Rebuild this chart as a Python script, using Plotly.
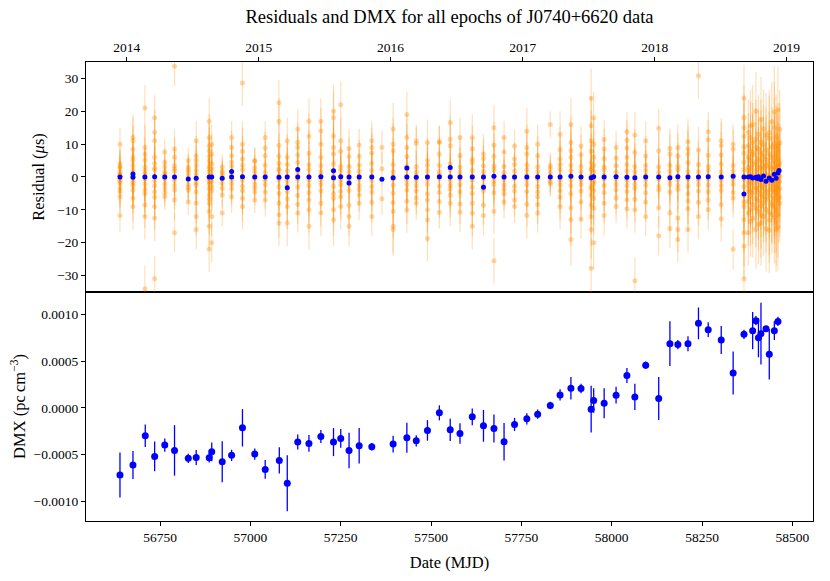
import plotly.graph_objects as go

# ---------------- DMX (bottom panel) ----------------
dmx_mjd = [56639, 56675, 56709, 56735, 56763, 56790, 56828, 56850, 56886, 56893,
           56922, 56948, 56978, 57012, 57041, 57080, 57102, 57131, 57162, 57195,
           57230, 57250, 57273, 57301, 57336, 57395, 57433, 57459, 57490, 57523,
           57553, 57580, 57614, 57645, 57674, 57702, 57731, 57765, 57795, 57830,
           57857, 57887, 57915, 57943, 57950, 57979, 58012, 58042, 58064, 58094,
           58130, 58161, 58183, 58211, 58240, 58267, 58303, 58336, 58366, 58390,
           58399, 58406, 58413, 58427, 58436, 58450, 58460]
dmx_val = [-0.000718, -0.000611, -0.000299, -0.000519, -0.000398, -0.000455, -0.000540, -0.000530, -0.000533, -0.000470,
           -0.000576, -0.000508, -0.000213, -0.000494, -0.000658, -0.000562, -0.000807, -0.000366, -0.000380, -0.000306,
           -0.000366, -0.000327, -0.000455, -0.000405, -0.000416, -0.000387, -0.000320, -0.000352, -0.000241, -0.000053,
           -0.000235, -0.000274, -0.000096, -0.000192, -0.000220, -0.000363, -0.000177, -0.000117, -0.000067, 0.000026,
           0.000139, 0.000210, 0.000207, -0.000014, 0.000079, 0.000050, 0.000136, 0.000346, 0.000117, 0.000456,
           0.000100, 0.000687, 0.000677, 0.000687, 0.000904, 0.000837, 0.000726, 0.000374, 0.000787, 0.000826,
           0.000933, 0.000751, 0.000794, 0.000847, 0.000573, 0.000826, 0.000925]
dmx_err = [0.00024, 0.00015, 0.00012, 0.00016, 0.00007, 0.00027, 0.00005, 0.00008, 0.00005, 0.00010,
           0.00022, 0.00006, 0.00020, 0.00006, 0.00010, 0.00014, 0.00030, 0.00008, 0.00009, 0.00007,
           0.00015, 0.00010, 0.00019, 0.00019, 0.00004, 0.00009, 0.00016, 0.00006, 0.00011, 0.00008,
           0.00012, 0.00011, 0.00009, 0.00017, 0.00015, 0.00020, 0.00007, 0.00006, 0.00005, 0.00004,
           0.00006, 0.00012, 0.00005, 0.00025, 0.00013, 0.00016, 0.00009, 0.00008, 0.00014, 0.00004,
           0.00023, 0.00024, 0.00005, 0.00008, 0.00017, 0.00008, 0.00015, 0.00023, 0.00005, 0.00020,
           0.00005, 0.00021, 0.00033, 0.00003, 0.00027, 0.00010, 0.00005]

# ---------------- Residuals (top panel) ----------------
epoch_mjd = [56639, 56675, 56708, 56735, 56763, 56790, 56828, 56850, 56886, 56893,
             56922, 56948, 56978, 57012, 57041, 57079, 57102, 57131, 57162, 57195,
             57230, 57250, 57273, 57301, 57336, 57364, 57395, 57433, 57459, 57490,
             57523, 57553, 57580, 57614, 57645, 57674, 57702, 57731, 57765, 57795,
             57830, 57857, 57887, 57915, 57943, 57950, 57979, 58012, 58042, 58064,
             58094, 58130, 58161, 58183, 58211, 58240, 58267, 58303, 58336, 58366,
             58378, 58384, 58390, 58399, 58406, 58413, 58420, 58427, 58436, 58443,
             58450, 58455, 58460, 58465]
epoch_resid = [
    [0.5, -0.8, 1.5, -2, 2.8, -3.5, 4, -1.2, 0.2, 10, -6, -11.7, 3.2, -4.4, 1],
    [0.3, -1, 2, -2.5, 3.5, -4, 5, 12, 11, -9, 8.5, -6.5, 1.2, -1.8, 6],
    [0.4, -0.6, 1.8, -2.2, 3, -3.8, 5.2, -5, 21, -34, 9, -12, -8.5, 7, 1],
    [0.2, -1.1, 2.2, -2.7, 4.1, -4.6, 6, 18, -31, -12.5, 11, -9, 13.6, -6.2, 2.7],
    [0.5, -0.7, 1.6, -2.1, 3, -3.5, 4.5, -6, 7.6, -4.8, 1],
    [0.1, -1, 1.8, -2.6, 3.4, -4, 8.5, -17, 33.7, 6, -7, 2.5],
    [0.3, -0.8, 1.5, -2.4, 3, -3.2, 5, -7.6, -4, 2.3],
    [0.6, -0.5, 2, -2.5, 3.5, -4.5, 6.5, 11, -8, -12, -16, 5, -1.7],
    [0.2, -0.9, 1.6, -2.2, 3.3, -3.6, 4.8, -5.4, 17, -22, -15, 12, -10.5, 8, 9.5, -8, 6.3, -6.7, 2.5, -1.5],
    [0.5, -1.4, 2.4, -3, 4, -4.2, 10, -12, 7, -20],
    [0.4, -0.7, 1.2, -2, 3, -3.5, -11, -5.5, 1.8],
    [0.3, -1, 1.6, -2.2, 3.2, -3.6, 12, 6.5, -6, 9, 4.5],
    [0.1, -0.9, 2.2, -2.8, 3.6, -4.2, 5.5, 10, -9, 28.6, -6.5, 7.8],
    [0.4, -0.5, 1.7, -2.1, 2.8, -3.3, 4.8, -7, 5, -4.6],
    [0.2, -1, 1.4, -2.4, 3.6, -4.6, 12, -7, 6.5, 8.8],
    [0.5, -0.8, 2, -2.9, 4.2, -5, 6.3, 22.6, -14, 17, -11.5, -8, 9.6, 2.5],
    [0.3, -1.2, 1.9, -2.6, 3.8, -4.4, 11, -14, -9, 6, -6.6],
    [0.6, -0.7, 1.8, -3, 4.4, -5.6, 14.6, -11, 9, -8.3, 10.5, 6.7],
    [0.2, -1, 2.3, -2.7, 3.7, -4.8, 17, -15, 12.4, -10, 7.2, -7],
    [0.5, -0.9, 1.6, -2.3, 3.4, -4.2, 17, -11, 14, -8, 6, 10],
    [0.3, -0.6, 1.9, -2.8, 4, -5, 20, -13, 9, -10, 18, -6.5, 12.5, 7],
    [0.4, -1.1, 2.1, -2.4, 3.3, -4.4, 22, -9, 11, 7.8, -6],
    [0.2, -0.8, 1.5, -2.2, 3.2, -4.1, 8.7, -15, -8.6, 6.2, -12],
    [0.5, -0.7, 1.8, -2.6, 3.6, -3.8, 9.7, -8, 6.3, -5.5],
    [0.3, -1, 2, -2.9, 4.2, -4.6, 11, -12, 7.3, -7.7, 9],
    [9, -6.6, 2.5],
    [0.4, -0.6, 1.7, -2.5, 3.8, -4.9, 14.6, -16, -10.5, -15, 10, 8, -7.8],
    [0.2, -0.9, 2.4, -2.3, 3.3, -4, 19, -10, 12, -7.4, 6.2, 9],
    [0.5, -1.1, 1.5, -2.7, 3.1, -4.3, 11, -8, 10.2, -6.4],
    [0.3, -0.8, 1.9, -2.2, 3.6, -5.2, 5, -18.7, -10, -13, -7, 10.5],
    [0.6, -0.5, 1.6, -2.8, 3.5, -4.7, 10.7, -10.7, 10.5, 7, -7.5],
    [0.2, -1, 2.2, -2.5, 4, -3.6, 16.6, -8, 11.5, 9.5, -5.5],
    [0.4, -0.7, 1.5, -2.4, 3, -4.5, 12, -10.7, -8.2, 6.5],
    [0.3, -0.9, 2, -3.1, 4.3, -5, 12, -15, -11, 8.6, -8, 5.3],
    [0.5, -0.6, 1.7, -2.6, 3.4, -4.2, 7, -11.7, -8.6, 5.6],
    [0.2, -1.2, 2.2, -2.2, 3.3, -4.8, 15, -25.5, -10.4, 9.7, 6.3],
    [0.4, -0.8, 1.4, -2.5, 3.2, -3.8, 12, -7.6, 7.6, -5.2],
    [0.3, -0.5, 1.8, -2.8, 3.8, -4.3, 9.4, -9, -7, 5.5],
    [0.6, -0.9, 2.1, -2.4, 3.6, -4.4, 14, -11.7, 9, -8.3, 7],
    [0.2, -0.7, 1.6, -2.9, 3.1, -4.6, 10, -11, -8.4, 6.5, -6],
    [0.4, -0.6, 1.3, -1.5, 2.6, -2, 16, 3.5],
    [0.3, -1, 2.3, -2.4, 3.7, -4.1, 13, -9, 8.3, -6.2, 5.4],
    [0.5, -0.8, 1.9, -2.7, 3.5, -5, 16, -19, -13, 10.5, 8, -9.4, 6],
    [0.2, -0.9, 1.6, -2.3, 3.2, -4.3, 9.4, -12.8, -7.6, 6.8],
    [0.4, -0.7, 2.1, -2.8, 4.3, -5.4, 24, -27.8, 11, -12, 7.8, -16, 15.6, -8.5, 2.7, -3.5],
    [0.3, -1.2, 1.7, -2.1, 3.5, -4.1, 10, -9.5, 18, -20, 6, -6.5],
    [0.5, -0.6, 2.2, -2.6, 3.1, -4.7, 11.4, -11.7, -8, 8.5, 5.6],
    [0.2, -0.8, 1.5, -2.4, 3.4, -3.9, 9, -9, -6.4, 5.8],
    [0.4, -1, 1.9, -2.7, 3.8, -4.4, 13.8, -9.7, 8.8, 11.2, -6.9, 6],
    [0.3, -0.7, 1.6, -2.2, 3.2, -3.5, 12.8, -31.6, -6.8, -10, 7.5],
    [0.6, -0.9, 2, -2.5, 3.6, -4.8, 11, -12, -7.6, 6.4],
    [0.2, -0.6, 1.4, -2.9, 3, -4, 14.8, -17.9, -9.4, 8],
    [0.4, -1.1, 1.8, -2.3, 3.6, -4.6, 8.7, -11, 7, -15.7],
    [0.3, -0.8, 2.2, -2.6, 3.3, -3.8, 9, -19, -12.5, -16, 6.4],
    [0.5, -0.7, 1.7, -2.8, 4.4, -5.1, 10.7, -16, 7, -9.7, 8.5, -7.3],
    [0.2, -0.9, 1.5, -2.4, 3.7, -4.3, 30.8, -12, 8.2, -7.7],
    [0.4, -0.6, 2, -2.5, 3.2, -4.5, 13.8, -10, 11.3, -7, 6.6],
    [0.3, -1, 1.6, -2.7, 3.9, -4.1, 11, -12.7, 9.6, -8.4, 6.8],
    [0.5, -0.8, 1.8, -2.2, 3.5, -4.7, 10, -22, 8.5, -6.4],
    [0.2, -0.7, 2.3, -2.9, 4.5, -5.6, 24, -31, 18, -17, 12.4, -13, -21, 9.2, -9, 7.2, -7.6, 15],
    [0.4, -1.5, 3, -4.2, 6, -7.5, 9.5, -11, 13.6, -17, 2, -2.6],
    [0.8, -1.2, 2.6, -3.8, 5.2, -6, 8, -10, 12, -13.5, 15.6, -4.6],
    [0.2, -2, 3.8, -4.9, 6.8, -8.4, 10.5, -12.6, 16, 7.5],
    [0.5, -1, 2, -3.3, 4.5, -6.6, 9, -9.5, 11.5, -16, 20, -3.4],
    [0.1, -1.6, 3.2, -4.4, 5.6, -7.2, 8.5, -10.4, 13, -14.5],
    [0.6, -0.8, 2.7, -3, 4.9, -5.3, 7.4, -8.8, 10.6, -11.7, 17.5, -14],
    [0.3, -1.9, 2.2, -3.6, 6.3, -6.1, 9.8, -7.9, 14.6, -12, 3.6],
    [0.7, -1.3, 3.5, -4.7, 5.3, -6.8, 8.2, -9.9, 12.7, -15.8, -2.4],
    [0.2, -0.6, 2.9, -3.9, 4.1, -5.7, 7, -10.8, 11.8, -16.2, 13.5, -13.2],
    [0.5, -1.7, 2.4, -2.8, 5.9, -7.8, 9.2, -8.6, 16.8, -11.4],
    [0.1, -1.1, 3.1, -4.6, 4.7, -6.4, 10.1, -9.2, 19.8, -12.3, 15, -4],
    [0.6, -2.2, 2.5, -3.2, 6.6, -5.1, 8.8, -10.1, 12.2, -13.8, -16],
    [0.4, -0.9, 3.6, -4, 5.5, -7, 7.7, -11.5, 9.5, -15.3, 20.5],
    [0.2, -1.4, 1.8, -3.5, 4.2, -6.1, 10.4, -8.1, 14.5],
]
epoch_err = [5, 7, 7, 7, 4, 6, 4, 6, 7, 6,
             4, 5, 7, 4, 5, 7, 7, 6, 7, 7,
             8, 7, 6, 5, 6, 5, 8, 7, 5, 7,
             5, 7, 6, 7, 6, 7, 5, 5, 7, 6,
             4, 7, 8, 6, 9, 8, 6, 5, 6, 7,
             6, 6, 6, 7, 7, 7, 6, 7, 6, 10,
             10, 11, 12, 12, 12, 13, 12, 13, 13, 12,
             14, 13, 13, 12]

# epoch-averaged residuals (blue)
avg_mjd = [56639, 56675, 56675, 56708, 56735, 56763, 56790, 56828, 56850, 56886,
           56893, 56922, 56948, 56948, 56978, 57012, 57041, 57079, 57102, 57102,
           57131, 57131, 57162, 57195, 57230, 57230, 57250, 57273, 57273, 57301,
           57336, 57364, 57395, 57433, 57433, 57459, 57490, 57523, 57553, 57553,
           57580, 57614, 57645, 57645, 57674, 57702, 57731, 57765, 57795, 57830,
           57857, 57887, 57915, 57943, 57950, 57979, 58012, 58042, 58064, 58094,
           58130, 58161, 58183, 58211, 58240, 58267, 58303, 58336, 58366, 58366,
           58378, 58384, 58390, 58399, 58403, 58406, 58413, 58420, 58427, 58436,
           58443, 58450, 58455, 58460, 58463]
avg_res = [0.0, 0.9, -0.1, 0.0, 0.1, 0.0, 0.0, -0.6, -0.4, 0.0,
           0.0, -0.4, 1.7, 0.0, 0.1, 0.0, 0.0, -0.1, -3.3, 0.0,
           2.3, 0.0, 0.0, 0.1, 1.9, -0.2, 0.1, -1.8, 0.0, 0.0,
           0.0, -0.7, -0.2, 2.7, 0.0, -0.1, 0.0, 0.1, 2.9, 0.0,
           0.0, 0.0, -3.1, 0.0, 0.2, 0.0, 0.0, 0.0, 0.0, 0.0,
           0.0, 0.2, 0.0, -0.2, 0.1, 0.0, 0.1, -0.1, -0.2, 0.0,
           0.0, -0.2, 0.1, 0.0, 0.0, 0.1, 0.0, 0.2, -5.2, 0.0,
           0.0, 0.1, -0.3, -0.1, -0.5, 0.1, -0.8, 0.3, -1.3, -0.3,
           -1.0, 0.8, -0.4, 1.2, 2.0]

year_labels = ["2014", "2015", "2016", "2017", "2018", "2019"]
year_mjd = [56658, 57023, 57388, 57754, 58119, 58484]

# ---------------- Build flattened orange arrays ----------------
ox, oy, oe = [], [], []
for m, vals, e in zip(epoch_mjd, epoch_resid, epoch_err):
    for v in vals:
        ox.append(m)
        oy.append(v)
        oe.append(e)

FONT = "Liberation Serif, DejaVu Serif, serif"
XR = [56545, 58557]

fig = go.Figure()

fig.add_trace(go.Scatter(
    x=ox, y=oy, mode="markers", xaxis="x2", yaxis="y2",
    marker=dict(color="rgba(255,140,0,0.36)", size=5, line=dict(width=0)),
    error_y=dict(type="data", array=oe, visible=True, thickness=1.2, width=0,
                 color="rgba(255,140,0,0.28)"),
    showlegend=False, hoverinfo="skip"))

fig.add_trace(go.Scatter(
    x=avg_mjd, y=avg_res, mode="markers", xaxis="x2", yaxis="y2",
    marker=dict(color="#0000ff", size=5, line=dict(width=0)),
    showlegend=False))

fig.add_trace(go.Scatter(
    x=dmx_mjd, y=dmx_val, mode="markers", xaxis="x", yaxis="y",
    marker=dict(color="#0000ff", size=7, line=dict(width=0)),
    error_y=dict(type="data", array=dmx_err, visible=True, thickness=1.3, width=0,
                 color="#0000ff"),
    showlegend=False))

# invisible trace to activate top year axis
fig.add_trace(go.Scatter(x=[XR[0]], y=[0], xaxis="x3", yaxis="y2", mode="markers",
                         marker=dict(opacity=0), showlegend=False, hoverinfo="skip"))

axis_common = dict(showline=True, linecolor="black", linewidth=1, mirror=True,
                   ticks="outside", ticklen=4, tickcolor="black", showgrid=False,
                   zeroline=False, automargin=False,
                   tickfont=dict(family=FONT, size=13.5, color="black"))

# the page body adds an 8px offset; figure is sized to fit the 830x581 window
split = 0.499
fig.update_layout(
    width=822, height=573,
    margin=dict(l=78, r=17, t=54, b=60),
    plot_bgcolor="white", paper_bgcolor="white",
    font=dict(family=FONT, color="black"),
    title=dict(text="Residuals and DMX for all epochs of J0740+6620 data",
               x=0.5, xref="paper", xanchor="center", y=1 - 9 / 573, yref="container",
               yanchor="middle", font=dict(family=FONT, size=18.5, color="black")),
    xaxis=dict(domain=[0, 1], anchor="y", range=XR,
               tickvals=[56750, 57000, 57250, 57500, 57750, 58000, 58250, 58500],
               ticktext=["56750", "57000", "57250", "57500", "57750", "58000", "58250", "58500"],
               title=dict(text="Date (MJD)", font=dict(family=FONT, size=16.5), standoff=12),
               **axis_common),
    yaxis=dict(domain=[0, split], anchor="x", range=[-0.00121, 0.00124],
               tickvals=[-0.001, -0.0005, 0, 0.0005, 0.001],
               ticktext=["\u22120.0010", "\u22120.0005", "0.0000", "0.0005", "0.0010"],
               title=dict(text="DMX (pc\u2009cm<sup>\u22123</sup>)", font=dict(family=FONT, size=16.5), standoff=8),
               **axis_common),
    xaxis2=dict(domain=[0, 1], anchor="y2", range=XR, showline=True, linecolor="black",
                linewidth=1, mirror=True, ticks="", showticklabels=False, showgrid=False,
                zeroline=False, automargin=False),
    yaxis2=dict(domain=[split, 1], anchor="x2", range=[-35, 35],
                tickvals=[-30, -20, -10, 0, 10, 20, 30],
                ticktext=["\u221230", "\u221220", "\u221210", "0", "10", "20", "30"],
                title=dict(text="Residual (<i>\u03bc</i>s)", font=dict(family=FONT, size=16.5), standoff=8),
                **axis_common),
    xaxis3=dict(overlaying="x2", anchor="y2", side="top", range=XR,
                tickvals=year_mjd, ticktext=year_labels, ticks="outside", ticklen=4,
                tickcolor="black", showgrid=False, zeroline=False, showline=False,
                automargin=False,
                tickfont=dict(family=FONT, size=13.5, color="black")),
)

fig.write_html("out.html")
